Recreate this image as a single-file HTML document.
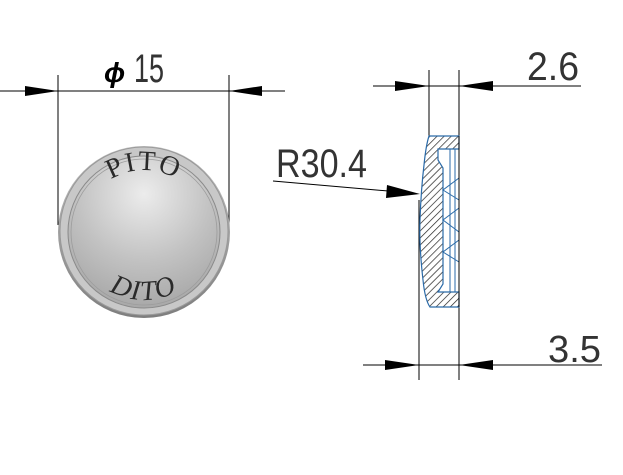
<!DOCTYPE html>
<html><head><meta charset="utf-8"><style>
html,body{margin:0;padding:0;background:#fff;width:623px;height:475px;overflow:hidden}
svg{display:block}
text{font-family:"Liberation Sans Narrow","Liberation Sans",sans-serif;fill:#333}
text.serif{font-family:"Liberation Serif",serif;fill:#2a2a2a}
</style></head><body>
<svg width="623" height="475" viewBox="0 0 623 475">
<defs>
<radialGradient id="face" cx="0.5" cy="0.25" r="0.8">
<stop offset="0" stop-color="#ececec"/><stop offset="0.55" stop-color="#c2c2c2"/><stop offset="1" stop-color="#a4a4a4"/>
</radialGradient>
<linearGradient id="rim" x1="0" y1="0" x2="0" y2="1">
<stop offset="0" stop-color="#c4c4c4"/><stop offset="1" stop-color="#7e7e7e"/>
</linearGradient>
<pattern id="hatch" width="5" height="5" patternUnits="userSpaceOnUse" patternTransform="rotate(45)">
<rect width="5" height="5" fill="#fff"/><line x1="0" y1="0" x2="0" y2="5" stroke="#222" stroke-width="1.4"/>
</pattern>
<path id="arcTop" d="M 82 232 A 62 62 0 0 1 206 232"/>
<path id="arcBot" d="M 76 232 A 68 68 0 0 0 212 232"/>
</defs>
<g stroke="#000" stroke-width="1" fill="none">
<line x1="0" y1="91" x2="285" y2="91"/>
<line x1="58" y1="75" x2="58" y2="225"/>
<line x1="229" y1="75" x2="229" y2="225"/>
<line x1="373" y1="86" x2="581" y2="86"/>
<line x1="429" y1="70" x2="429" y2="137"/>
<line x1="459" y1="70" x2="459" y2="137"/>
<line x1="363" y1="365" x2="602" y2="365"/>
<line x1="419" y1="200" x2="419" y2="380"/>
<line x1="459" y1="307" x2="459" y2="380"/>
<line x1="273" y1="181" x2="400" y2="192"/>
</g>
<g fill="#000">
<polygon points="58,91 25,86 25,96"/>
<polygon points="229,91 262,86 262,96"/>
<polygon points="429,86 395,81 395,91"/>
<polygon points="459,86 493,81 493,91"/>
<polygon points="419,365 385,360 385,370"/>
<polygon points="459,365 493,360 493,370"/>
<polygon points="420,194 387,185 386,198"/>
</g>
<text x="104" y="82" font-size="28" font-weight="bold" font-style="italic" style="fill:#000">ϕ</text>
<text x="134" y="82" font-size="40" textLength="30" lengthAdjust="spacingAndGlyphs">15</text>
<text x="527" y="80" font-size="40" textLength="52" lengthAdjust="spacingAndGlyphs">2.6</text>
<text x="548" y="362" font-size="38" textLength="53" lengthAdjust="spacingAndGlyphs">3.5</text>
<text x="276" y="177" font-size="40" textLength="91" lengthAdjust="spacingAndGlyphs">R30.4</text>
<circle cx="144" cy="232" r="86" fill="url(#rim)"/>
<circle cx="144" cy="231" r="84" fill="#c8c8c8" stroke="#999"/>
<circle cx="144" cy="232" r="76" fill="url(#face)" stroke="#8a8a8a"/>
<circle cx="144" cy="232" r="73" fill="none" stroke="#9c9c9c" stroke-width="0.8"/>
<text class="serif" font-size="28" letter-spacing="2"><textPath href="#arcTop" startOffset="50%" text-anchor="middle">PITO</textPath></text>
<text class="serif" font-size="28" letter-spacing="2" font-style="italic"><textPath href="#arcBot" startOffset="50%" text-anchor="middle">DITO</textPath></text>
<path d="M429,136 L459,136 L459,149 L438,149 L438,160 L443,168 L443,284 L438,292 L459,292 L459,307 L430,307 Q425,300 423,280 Q419,245 420,220 Q421,190 424,165 Q426,145 429,136 Z" fill="url(#hatch)" stroke="#2a6aa8" stroke-width="1.2"/>
<g stroke="#2a6aa8" stroke-width="1" fill="none">
<line x1="450" y1="149" x2="450" y2="292"/>
<line x1="455" y1="149" x2="455" y2="292"/>
<polyline points="459,178 443,190 459,200"/>
<polyline points="459,208 443,220 459,232"/>
<polyline points="459,240 443,252 459,262"/>
</g>
<line x1="459" y1="136" x2="459" y2="307" stroke="#000"/>
</svg>
</body></html>
